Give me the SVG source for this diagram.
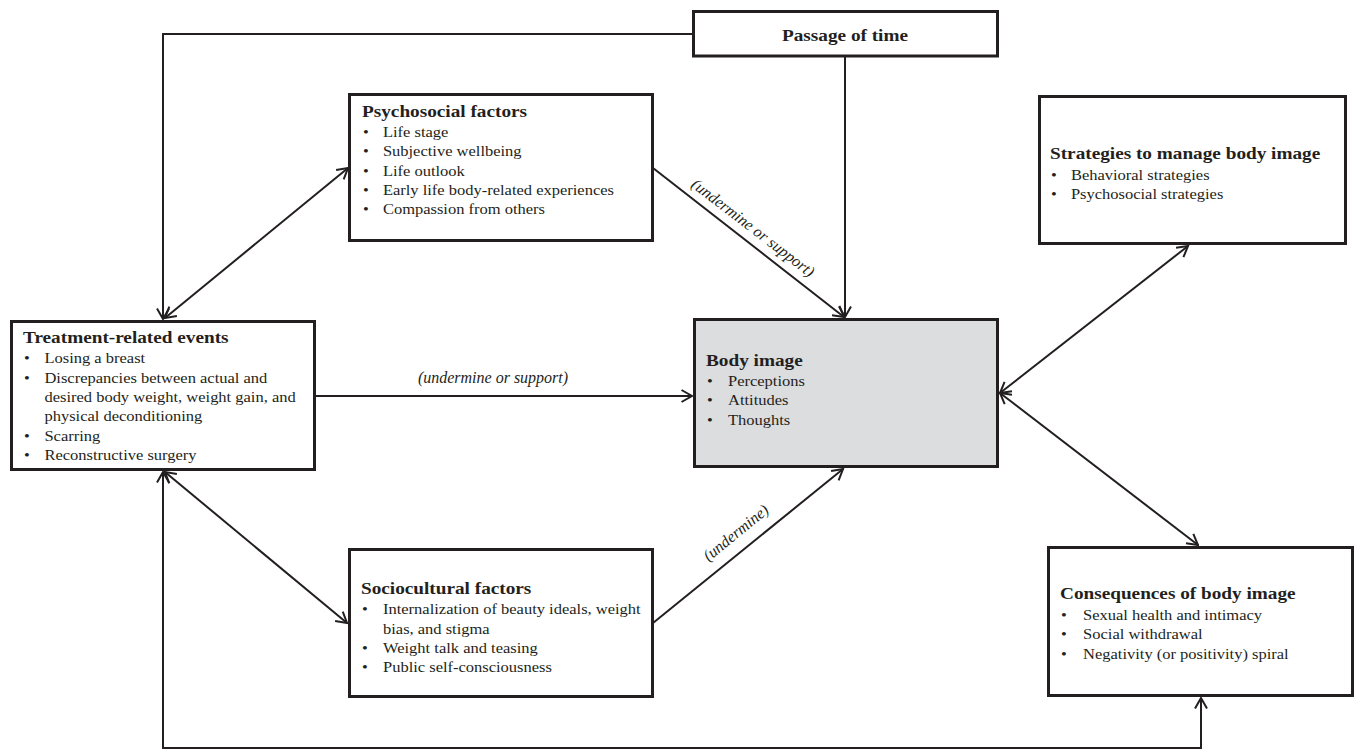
<svg xmlns="http://www.w3.org/2000/svg" width="1354" height="750" viewBox="0 0 1354 750">
<defs>
<marker id="arr" viewBox="0 0 14 14" markerWidth="14" markerHeight="14" refX="12.5" refY="7" orient="auto-start-reverse" markerUnits="userSpaceOnUse">
<path d="M2,1 L12.5,7 L2,13" fill="none" stroke="#231f20" stroke-width="2"/>
</marker>
<style>
.box{fill:#ffffff;stroke:#231f20;stroke-width:3}
.gray{fill:#dcdddf}
.t{font-family:"Liberation Serif","Times New Roman",serif;font-weight:bold;font-size:17.5px;fill:#231f20}
.b{font-family:"Liberation Serif","Times New Roman",serif;font-size:15px;fill:#231f20}
.lab{font-family:"Liberation Serif","Times New Roman",serif;font-style:italic;font-size:16px;fill:#231f20}
.c{fill:none;stroke:#231f20;stroke-width:2}
</style>
</defs>
<rect width="1354" height="750" fill="#ffffff"/>
<g id="connectors">
<polyline class="c" points="692,34 163,34 163,319" marker-end="url(#arr)"/>
<line class="c" x1="845" y1="57" x2="845" y2="317" marker-end="url(#arr)"/>
<line class="c" x1="165" y1="318" x2="348" y2="168" marker-start="url(#arr)" marker-end="url(#arr)"/>
<line class="c" x1="653" y1="168" x2="844" y2="317" marker-end="url(#arr)"/>
<line class="c" x1="316" y1="396" x2="692" y2="396" marker-end="url(#arr)"/>
<line class="c" x1="165" y1="472" x2="347" y2="623" marker-start="url(#arr)" marker-end="url(#arr)"/>
<line class="c" x1="653" y1="623" x2="843" y2="469" marker-end="url(#arr)"/>
<line class="c" x1="1000" y1="393" x2="1188" y2="246" marker-start="url(#arr)" marker-end="url(#arr)"/>
<line class="c" x1="1000" y1="393" x2="1198" y2="545" marker-start="url(#arr)" marker-end="url(#arr)"/>
<polyline class="c" points="163,472 163,748 1201,748 1201,698" marker-start="url(#arr)" marker-end="url(#arr)"/>
<text class="lab" x="493" y="383" text-anchor="middle">(undermine or support)</text>
<text class="lab" transform="translate(753,228) rotate(37.5)" x="0" y="5" text-anchor="middle">(undermine or support)</text>
<text class="lab" transform="translate(736,533) rotate(-39.2)" x="0" y="5" text-anchor="middle">(undermine)</text>
</g>
<g id="passage">
<rect class="box" x="693.5" y="11.5" width="304" height="44.5"/>
<g transform="translate(845,41) scale(1.1,1)"><text class="t" x="0" y="0" text-anchor="middle">Passage of time</text></g>
</g>
<g id="psychosocial">
<rect class="box" x="349.5" y="94.5" width="303" height="146"/>
<g transform="translate(362,117) scale(1.1,1)">
<text class="t" x="0" y="0">Psychosocial factors</text>
<text class="b" x="1" y="20">•</text><text class="b" x="19" y="20">Life stage</text>
<text class="b" x="1" y="39.3">•</text><text class="b" x="19" y="39.3">Subjective wellbeing</text>
<text class="b" x="1" y="58.6">•</text><text class="b" x="19" y="58.6">Life outlook</text>
<text class="b" x="1" y="77.9">•</text><text class="b" x="19" y="77.9">Early life body-related experiences</text>
<text class="b" x="1" y="97.2">•</text><text class="b" x="19" y="97.2">Compassion from others</text>
</g>
</g>
<g id="treatment">
<rect class="box" x="11.5" y="321.5" width="303" height="148"/>
<g transform="translate(23,343) scale(1.1,1)">
<text class="t" x="0" y="0">Treatment-related events</text>
<text class="b" x="1" y="20.5">•</text><text class="b" x="19.5" y="20.5">Losing a breast</text>
<text class="b" x="1" y="39.8">•</text><text class="b" x="19.5" y="39.8">Discrepancies between actual and</text>
<text class="b" x="19.5" y="59.1">desired body weight, weight gain, and</text>
<text class="b" x="19.5" y="78.4">physical deconditioning</text>
<text class="b" x="1" y="97.7">•</text><text class="b" x="19.5" y="97.7">Scarring</text>
<text class="b" x="1" y="117">•</text><text class="b" x="19.5" y="117">Reconstructive surgery</text>
</g>
</g>
<g id="bodyimage">
<rect class="box gray" x="694.5" y="319.5" width="303" height="147"/>
<g transform="translate(706,366) scale(1.1,1)">
<text class="t" x="0" y="0">Body image</text>
<text class="b" x="1" y="20">•</text><text class="b" x="20" y="20">Perceptions</text>
<text class="b" x="1" y="39.3">•</text><text class="b" x="20" y="39.3">Attitudes</text>
<text class="b" x="1" y="58.6">•</text><text class="b" x="20" y="58.6">Thoughts</text>
</g>
</g>
<g id="strategies">
<rect class="box" x="1039.5" y="96.5" width="306" height="147"/>
<g transform="translate(1050,159) scale(1.1,1)">
<text class="t" x="0" y="0">Strategies to manage body image</text>
<text class="b" x="1" y="21">•</text><text class="b" x="19" y="21">Behavioral strategies</text>
<text class="b" x="1" y="40.3">•</text><text class="b" x="19" y="40.3">Psychosocial strategies</text>
</g>
</g>
<g id="sociocultural">
<rect class="box" x="349.5" y="549.5" width="303" height="147"/>
<g transform="translate(361,594) scale(1.1,1)">
<text class="t" x="0" y="0">Sociocultural factors</text>
<text class="b" x="1" y="20.5">•</text><text class="b" x="20" y="20.5">Internalization of beauty ideals, weight</text>
<text class="b" x="20" y="39.8">bias, and stigma</text>
<text class="b" x="1" y="59.1">•</text><text class="b" x="20" y="59.1">Weight talk and teasing</text>
<text class="b" x="1" y="78.4">•</text><text class="b" x="20" y="78.4">Public self-consciousness</text>
</g>
</g>
<g id="consequences">
<rect class="box" x="1048.5" y="547.5" width="304" height="148"/>
<g transform="translate(1060,599) scale(1.1,1)">
<text class="t" x="0" y="0">Consequences of body image</text>
<text class="b" x="1" y="21">•</text><text class="b" x="21" y="21">Sexual health and intimacy</text>
<text class="b" x="1" y="40.3">•</text><text class="b" x="21" y="40.3">Social withdrawal</text>
<text class="b" x="1" y="59.6">•</text><text class="b" x="21" y="59.6">Negativity (or positivity) spiral</text>
</g>
</g>
</svg>
